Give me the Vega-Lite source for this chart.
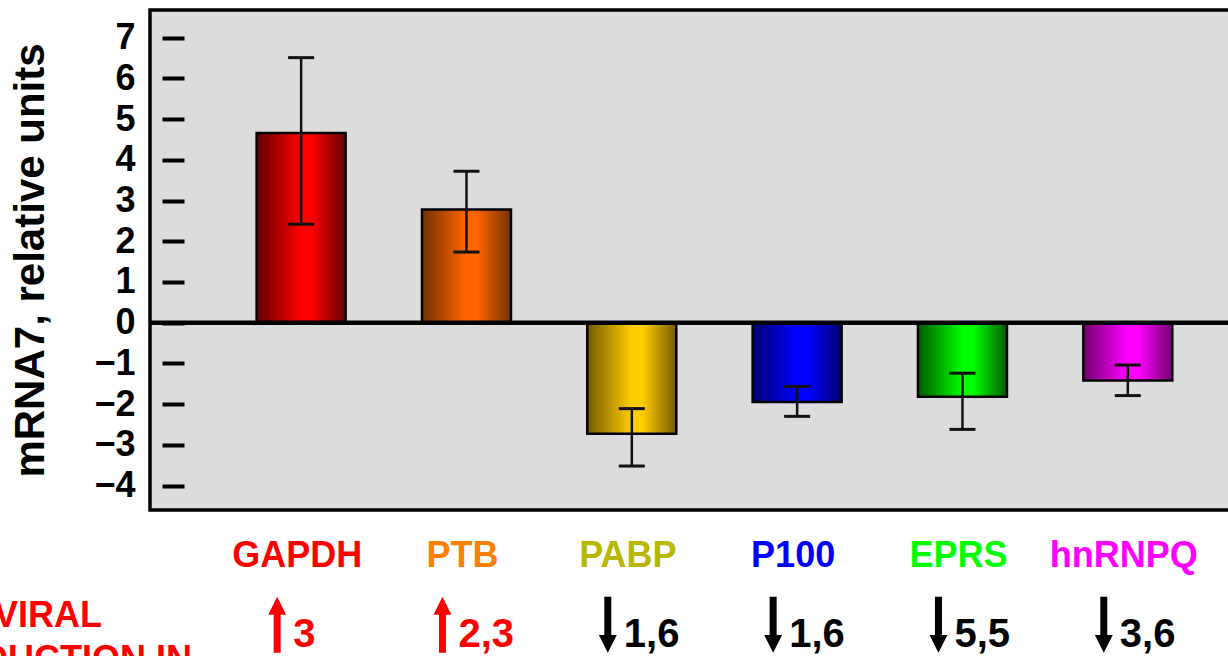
{
  "$schema": "https://vega.github.io/schema/vega-lite/v6.json",
  "width": 1081,
  "height": 500,
  "autosize": {"type": "none"},
  "padding": {"left": 150, "top": 10, "right": -3, "bottom": 146},
  "background": "white",
  "config": {
    "font": "Liberation Sans",
    "view": {"fill": "#dcdcdc", "stroke": "#000000", "strokeWidth": 3.5}
  },
  "title": {
    "text": ["VIRAL", "PRODUCTION IN"],
    "orient": "bottom",
    "anchor": "start",
    "frame": "group",
    "align": "center",
    "baseline": "alphabetic",
    "dx": -102,
    "offset": -28,
    "font": "Liberation Sans",
    "fontSize": 36,
    "fontWeight": "bold",
    "color": "#ff0000",
    "lineHeight": 44
  },
  "data": {
    "values": [
      {"gene": "GAPDH", "mean": 4.66, "lo": 2.42, "hi": 6.51, "dir": "up", "fold": "3"},
      {"gene": "PTB", "mean": 2.78, "lo": 1.735, "hi": 3.72, "dir": "up", "fold": "2,3"},
      {"gene": "PABP", "mean": -2.73, "lo": -3.52, "hi": -2.11, "dir": "down", "fold": "1,6"},
      {"gene": "P100", "mean": -1.95, "lo": -2.3, "hi": -1.565, "dir": "down", "fold": "1,6"},
      {"gene": "EPRS", "mean": -1.82, "lo": -2.62, "hi": -1.24, "dir": "down", "fold": "5,5"},
      {"gene": "hnRNPQ", "mean": -1.42, "lo": -1.79, "hi": -1.04, "dir": "down", "fold": "3,6"}
    ]
  },
  "layer": [
    {
      "mark": {"type": "bar", "stroke": "#000000", "strokeWidth": 2.5},
      "encoding": {
        "x": {
          "field": "gene", "type": "nominal", "sort": null,
          "scale": {"domain": ["GAPDH", "PTB", "PABP", "P100", "EPRS", "hnRNPQ"], "paddingInner": 0.4616, "paddingOuter": 0.5, "align": 0.645},
          "axis": null
        },
        "y": {
          "field": "mean", "type": "quantitative",
          "scale": {"domain": [-4.6, 7.68], "nice": false, "zero": false},
          "axis": {
            "title": "mRNA7, relative units",
            "values": [-4, -3, -2, -1, 0, 1, 2, 3, 4, 5, 6, 7],
            "domain": false, "grid": false,
            "ticks": true, "tickSize": -22, "tickWidth": 4, "tickColor": "#000000",
            "offset": -12,
            "labelFontSize": 36, "labelFontWeight": "bold", "labelColor": "#000000",
            "labelPadding": 49, "labelOverlap": false, "labelFlush": false,
            "titleFontSize": 42, "titleFontWeight": "bold", "titleColor": "#000000",
            "titlePadding": 41
          }
        },
        "y2": {"datum": 0},
        "fill": {
          "condition": [
            {"test": "datum.gene === 'GAPDH'", "value": {"gradient": "linear", "x1": 0, "y1": 0, "x2": 1, "y2": 0, "stops": [{"offset": 0, "color": "#640000"}, {"offset": 0.5, "color": "#ff0000"}, {"offset": 0.62, "color": "#ff0000"}, {"offset": 1, "color": "#640000"}]}},
            {"test": "datum.gene === 'PTB'", "value": {"gradient": "linear", "x1": 0, "y1": 0, "x2": 1, "y2": 0, "stops": [{"offset": 0, "color": "#733000"}, {"offset": 0.5, "color": "#ff6600"}, {"offset": 0.62, "color": "#ff6600"}, {"offset": 1, "color": "#733000"}]}},
            {"test": "datum.gene === 'PABP'", "value": {"gradient": "linear", "x1": 0, "y1": 0, "x2": 1, "y2": 0, "stops": [{"offset": 0, "color": "#735c00"}, {"offset": 0.5, "color": "#ffcc00"}, {"offset": 0.62, "color": "#ffcc00"}, {"offset": 1, "color": "#735c00"}]}},
            {"test": "datum.gene === 'P100'", "value": {"gradient": "linear", "x1": 0, "y1": 0, "x2": 1, "y2": 0, "stops": [{"offset": 0, "color": "#000070"}, {"offset": 0.5, "color": "#0000ff"}, {"offset": 0.62, "color": "#0000ff"}, {"offset": 1, "color": "#000070"}]}},
            {"test": "datum.gene === 'EPRS'", "value": {"gradient": "linear", "x1": 0, "y1": 0, "x2": 1, "y2": 0, "stops": [{"offset": 0, "color": "#005a00"}, {"offset": 0.5, "color": "#00ff00"}, {"offset": 0.62, "color": "#00ff00"}, {"offset": 1, "color": "#005a00"}]}}
          ],
          "value": {"gradient": "linear", "x1": 0, "y1": 0, "x2": 1, "y2": 0, "stops": [{"offset": 0, "color": "#700070"}, {"offset": 0.5, "color": "#ff00ff"}, {"offset": 0.62, "color": "#ff00ff"}, {"offset": 1, "color": "#700070"}]}
        }
      }
    },
    {
      "data": {"values": [{}]},
      "mark": {"type": "rule", "color": "#000000", "strokeWidth": 4.5},
      "encoding": {"y": {"datum": 0}}
    },
    {
      "mark": {"type": "rule", "color": "#111111", "strokeWidth": 2.5},
      "encoding": {
        "x": {"field": "gene", "type": "nominal"},
        "y": {"field": "lo", "type": "quantitative"},
        "y2": {"field": "hi"}
      }
    },
    {
      "mark": {"type": "tick", "color": "#111111", "size": 26, "thickness": 3, "opacity": 1},
      "encoding": {
        "x": {"field": "gene", "type": "nominal"},
        "y": {"field": "lo", "type": "quantitative"}
      }
    },
    {
      "mark": {"type": "tick", "color": "#111111", "size": 26, "thickness": 3, "opacity": 1},
      "encoding": {
        "x": {"field": "gene", "type": "nominal"},
        "y": {"field": "hi", "type": "quantitative"}
      }
    },
    {
      "mark": {"type": "text", "fontSize": 36, "fontWeight": "bold", "align": "center", "baseline": "alphabetic", "dx": -4},
      "encoding": {
        "x": {"field": "gene", "type": "nominal"},
        "y": {"datum": -6.0},
        "text": {"field": "gene"},
        "fill": {
          "field": "gene", "type": "nominal", "legend": null,
          "scale": {"domain": ["GAPDH", "PTB", "PABP", "P100", "EPRS", "hnRNPQ"], "range": ["#ff0000", "#ff8000", "#b8b800", "#0000ff", "#00ff00", "#ff00ff"]}
        }
      }
    },
    {
      "mark": {"type": "point", "filled": true, "size": 3136, "xOffset": -24, "opacity": 1, "strokeWidth": 0},
      "encoding": {
        "x": {"field": "gene", "type": "nominal"},
        "y": {"datum": -7.42},
        "shape": {
          "field": "dir", "type": "nominal", "legend": null,
          "scale": {"domain": ["up", "down"], "range": ["M-0.125,1L0.125,1L0.125,-0.36L0.32,-0.36L0,-1L-0.32,-0.36L-0.125,-0.36Z", "M-0.125,-1L0.125,-1L0.125,0.36L0.32,0.36L0,1L-0.32,0.36L-0.125,0.36Z"]}
        },
        "color": {
          "field": "dir", "type": "nominal", "legend": null,
          "scale": {"domain": ["up", "down"], "range": ["#ff0000", "#000000"]}
        }
      }
    },
    {
      "mark": {"type": "text", "fontSize": 40, "fontWeight": "bold", "align": "left", "baseline": "alphabetic", "dx": -8},
      "encoding": {
        "x": {"field": "gene", "type": "nominal"},
        "y": {"datum": -7.96},
        "text": {"field": "fold"},
        "color": {
          "field": "dir", "type": "nominal", "legend": null,
          "scale": {"domain": ["up", "down"], "range": ["#ff0000", "#000000"]}
        }
      }
    }
  ]
}
